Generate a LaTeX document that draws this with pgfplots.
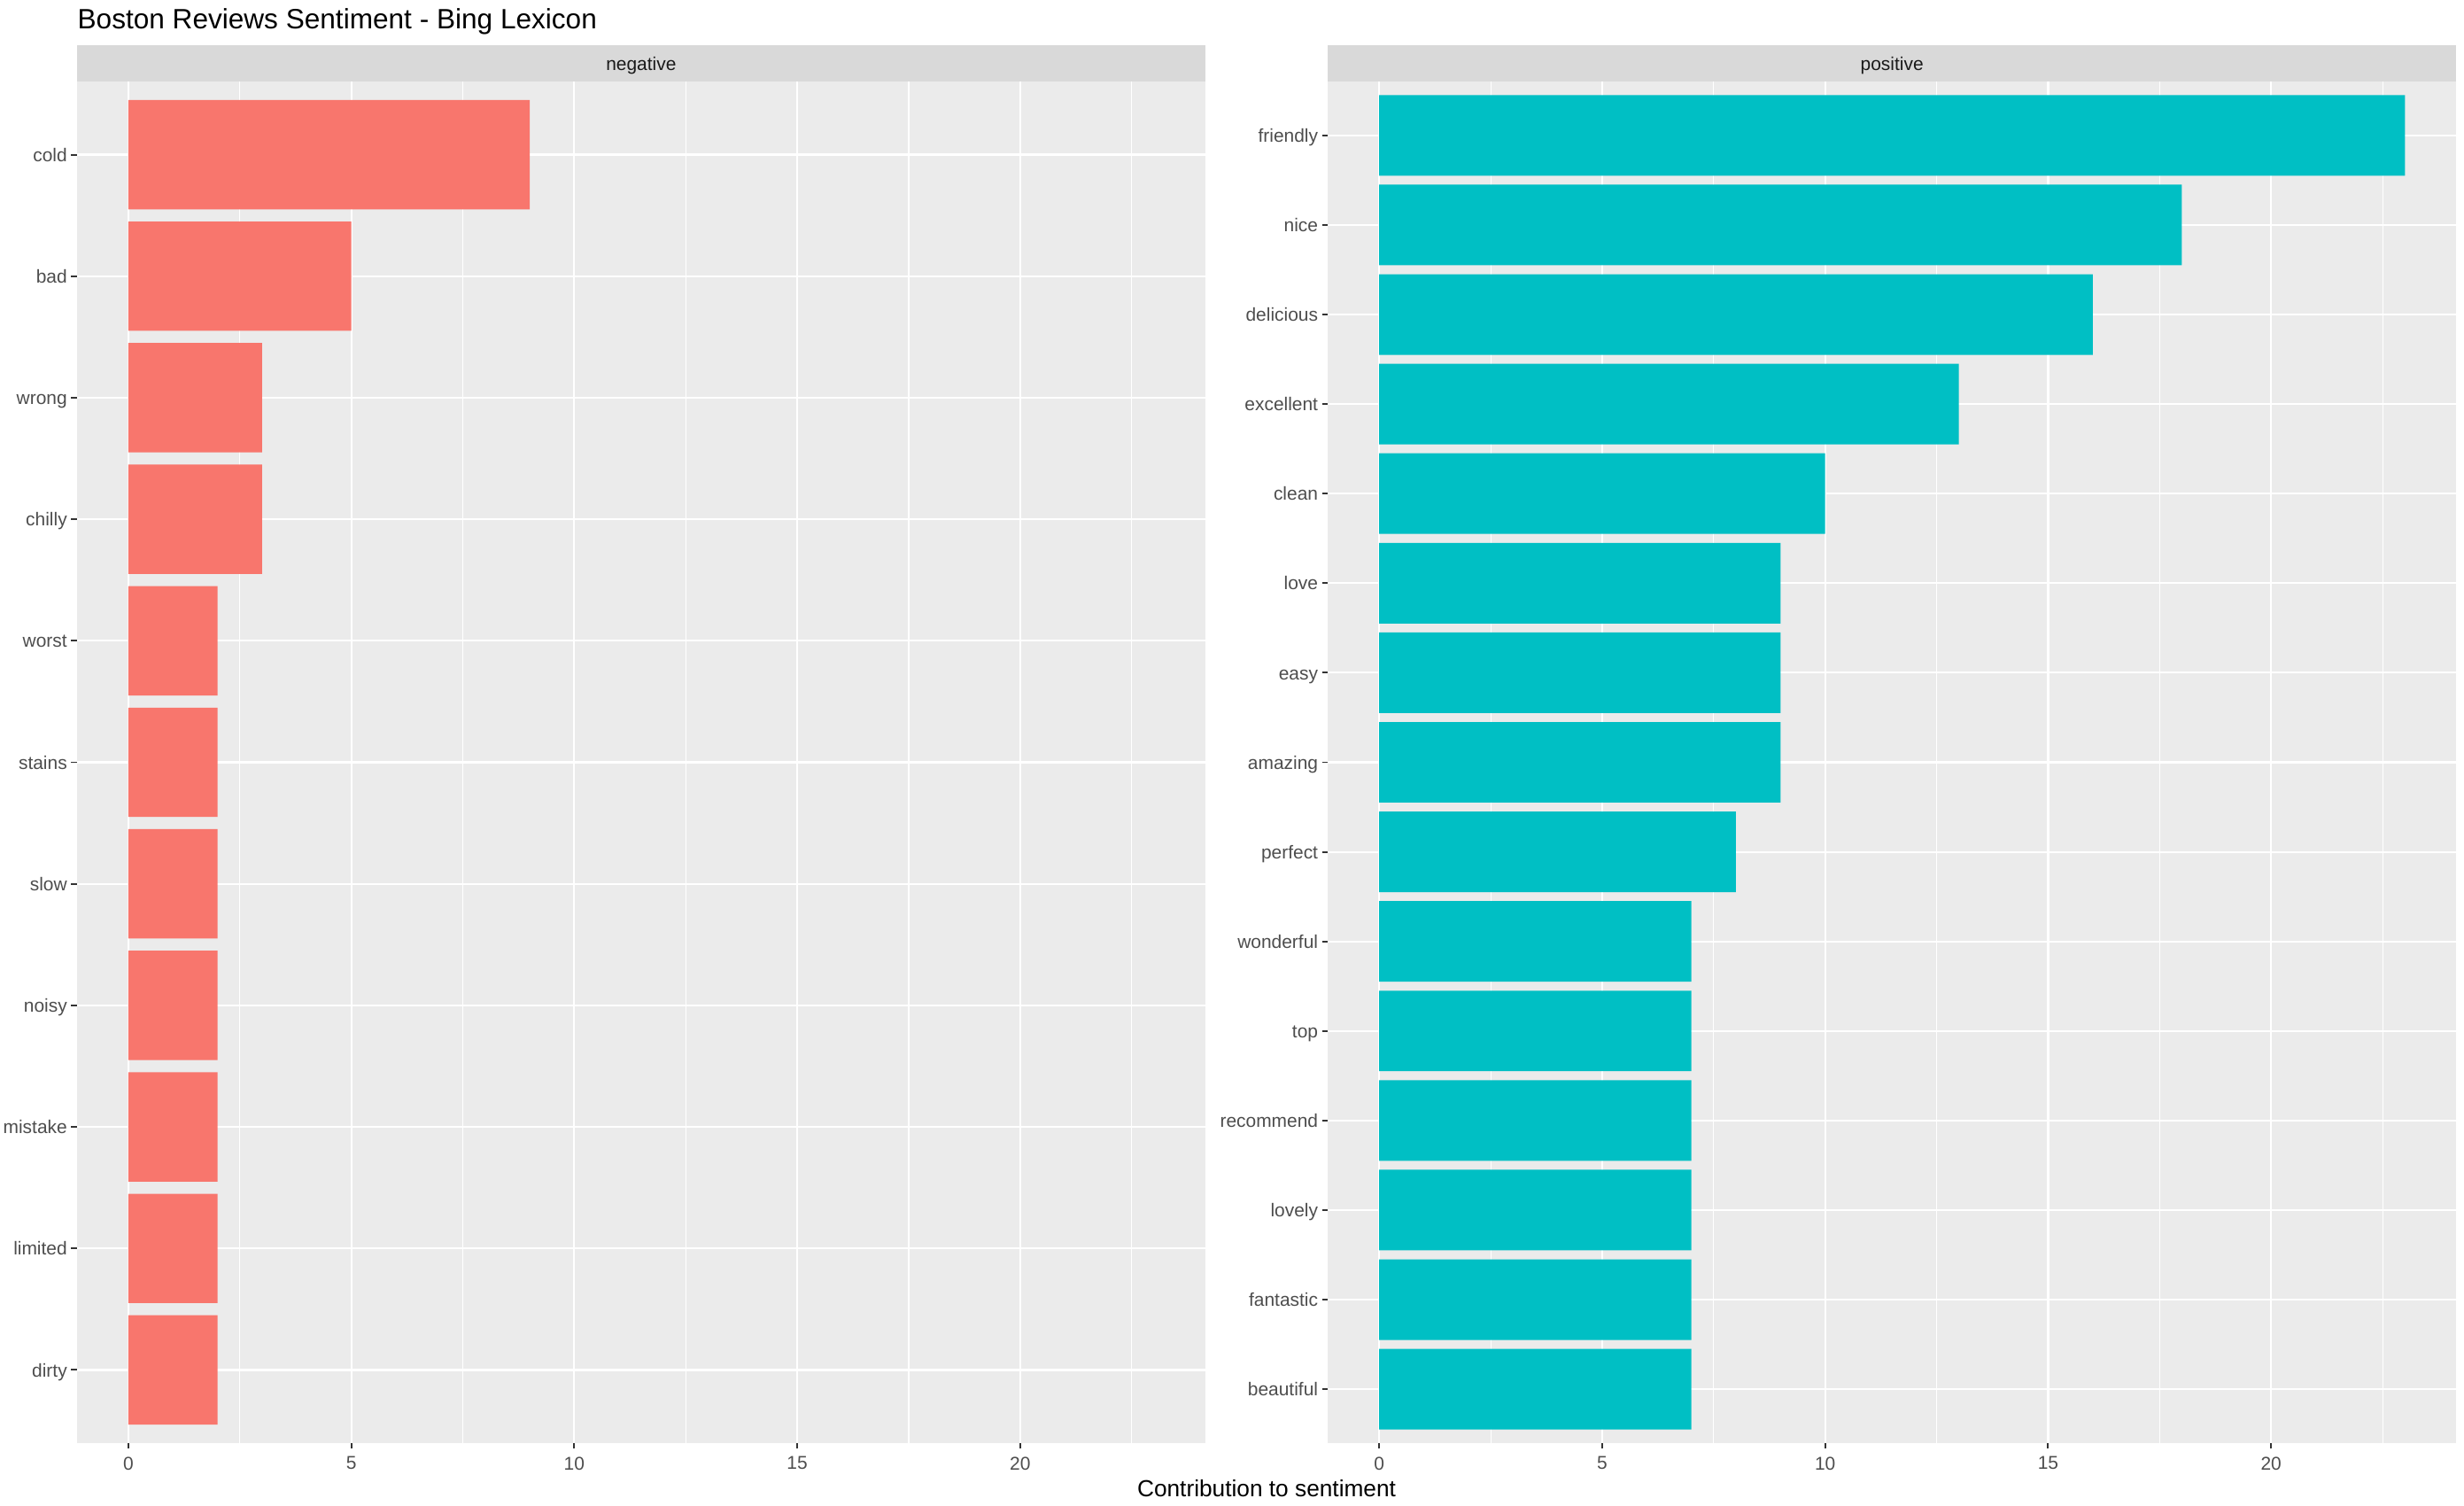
\documentclass[border=0pt]{standalone}
\usepackage{pgfplots}
\pgfplotsset{compat=1.18}
\usepackage{fontspec}
\setmainfont{Liberation Sans}
\definecolor{negc}{HTML}{F8766D}
\definecolor{posc}{HTML}{00BFC4}
\definecolor{panelbg}{HTML}{EBEBEB}
\definecolor{stripbg}{HTML}{D9D9D9}
\definecolor{tickc}{HTML}{333333}
\definecolor{ticklab}{HTML}{4D4D4D}
\definecolor{striptxt}{HTML}{1A1A1A}
\pgfplotsset{gg/.style={
  width=359pt, height=433pt, scale only axis,
  anchor=south west,
  xmin=-1.15, xmax=24.15, ymin=0.4,
  xbar, bar width=0.9,
  axis background/.style={fill=panelbg},
  axis line style={draw=none},
  xtick={0,5,10,15,20}, minor xtick={2.5,7.5,12.5,17.5,22.5},
  xmajorgrids, ymajorgrids, xminorgrids,
  major grid style={white, line width=0.6pt},
  minor grid style={white, line width=0.3pt},
  tick align=outside, major tick length=1.85pt, minor tick length=0pt,
  tick style={tickc, line width=0.55pt},
  tick pos=left,
  /pgf/number format/assume math mode=true,
  ticklabel style={font=\fontsize{5.9}{7}\selectfont, text=ticklab},
  xticklabel style={inner sep=2.4pt},
  yticklabel style={inner sep=1.1pt, text height=4.3pt, text depth=0pt},
  clip=false,
}}
\begin{document}
\begin{tikzpicture}
\path[use as bounding box] (0,0) rectangle (784pt,479pt);
\begin{axis}[gg, at={(24.5pt,20pt)}, ymax=11.6,
  ytick={1,...,11},
  yticklabels={dirty,limited,mistake,noisy,slow,stains,worst,chilly,wrong,bad,cold}]
\addplot[fill=negc, draw=none] coordinates {
(2,1) (2,2) (2,3) (2,4) (2,5) (2,6) (2,7) (3,8) (3,9) (5,10) (9,11)};
\fill[stripbg] (rel axis cs:0,1) rectangle ([yshift=11.5pt]rel axis cs:1,1);
\node[font=\fontsize{5.9}{7}\selectfont, text=striptxt, text height=4.3pt, text depth=0pt] at ([yshift=5.75pt]rel axis cs:0.5,1) {negative};
\node[anchor=west, inner sep=0pt, font=\fontsize{8.9}{10}\selectfont] at ([yshift=19pt]rel axis cs:0,1) {Boston Reviews Sentiment - Bing Lexicon};
\end{axis}
\begin{axis}[gg, at={(422.5pt,20pt)}, ymax=15.6,
  ytick={1,...,15},
  yticklabels={beautiful,fantastic,lovely,recommend,top,wonderful,perfect,amazing,easy,love,clean,excellent,delicious,nice,friendly}]
\addplot[fill=posc, draw=none] coordinates {
(7,1) (7,2) (7,3) (7,4) (7,5) (7,6) (8,7) (9,8) (9,9) (9,10) (10,11) (13,12) (16,13) (18,14) (23,15)};
\fill[stripbg] (rel axis cs:0,1) rectangle ([yshift=11.5pt]rel axis cs:1,1);
\node[font=\fontsize{5.9}{7}\selectfont, text=striptxt, text height=4.3pt, text depth=0pt] at ([yshift=5.75pt]rel axis cs:0.5,1) {positive};
\end{axis}
\node[font=\fontsize{7.4}{9}\selectfont] at (403pt,5.5pt) {Contribution to sentiment};
\end{tikzpicture}
\end{document}
